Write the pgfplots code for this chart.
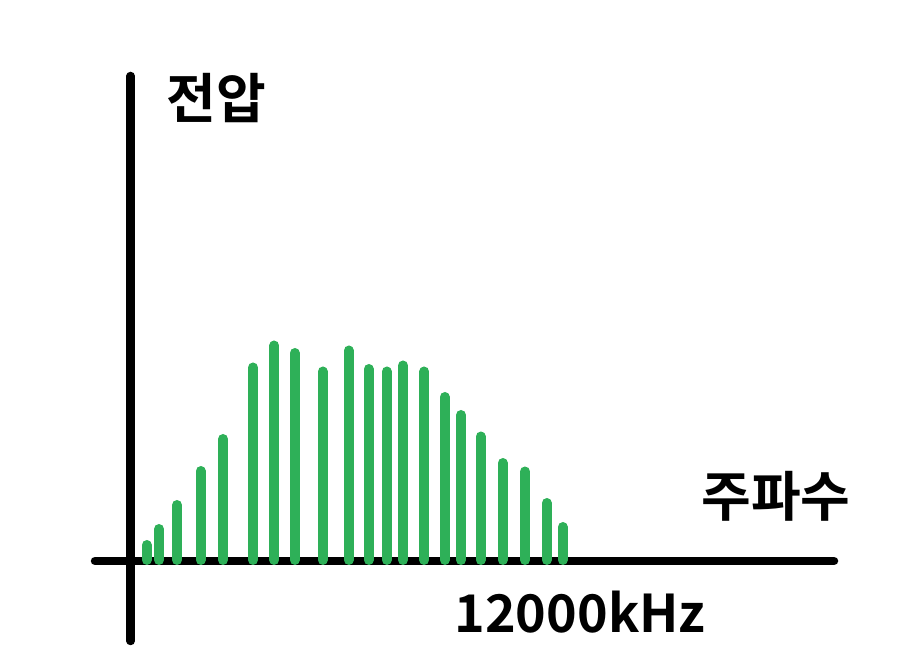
\documentclass[border=0pt]{standalone}
\usepackage{pgfplots}
\pgfplotsset{compat=1.18}
\usepackage{fontspec}
\setmainfont{Noto Sans CJK KR}[BoldFont={Noto Sans CJK KR Bold}]
\definecolor{bargreen}{RGB}{46,176,88}
\begin{document}
\begin{tikzpicture}
\begin{axis}[
  scale only axis, width=922pt, height=670pt,
  xmin=0, xmax=922, ymin=-110, ymax=560,
  hide axis, clip=false,
]
\path (rel axis cs:0,0) rectangle (rel axis cs:1,1);
% axes
\addplot[black, line width=8.5pt, line cap=round] coordinates {(95,-1) (834,-1)};
\addplot[black, line width=8.5pt, line cap=round] coordinates {(130.7,484) (130.7,-81)};
% bars
\addplot[ycomb, bargreen, line width=10pt, line cap=round, mark=none] coordinates {
(146.7,15) (159,31) (177,55) (200.7,89) (223,121) (253,192.5) (274.3,214.5)
(294.7,207) (322.7,188.5) (348.7,209.5) (368.7,191) (386.7,188.5) (403,194.5)
(424.3,188.5) (444.7,163) (461,145) (480.7,123.5) (502.7,97) (525,88.5)
(546.7,57) (562.7,33)
};
\node[font=\fontsize{54}{60}\selectfont\bfseries, inner sep=0pt] at (axis cs:216,462) {전압};
\node[font=\fontsize{54}{60}\selectfont\bfseries, inner sep=0pt] at (axis cs:776,64) {주파수};
\node[font=\fontsize{52}{60}\selectfont\bfseries, inner sep=0pt] at (axis cs:580,-52) {12000kHz};
\end{axis}
\end{tikzpicture}
\end{document}
